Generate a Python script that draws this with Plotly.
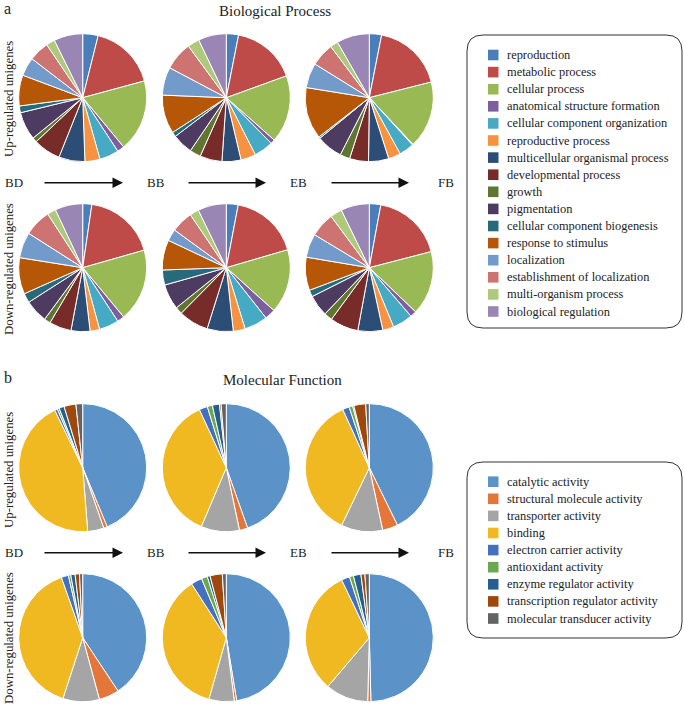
import plotly.graph_objects as go

W, H = 685, 707

stages = ["BD", "BB", "EB", "FB"]

bp_labels = ["reproduction", "metabolic process", "cellular process", "anatomical structure formation",
             "cellular component organization", "reproductive process", "multicellular organismal process",
             "developmental process", "growth", "pigmentation", "cellular component biogenesis",
             "response to stimulus", "localization", "establishment of localization",
             "multi-organism process", "biological regulation"]
bp_colors = ["#4A7EBB", "#BE4B48", "#98B954", "#7D5FA0", "#46AAC5", "#F69240", "#2C4D75", "#772C2A",
             "#5F7530", "#4D3B62", "#276A7C", "#B65708", "#729ACA", "#CD7371", "#AFC97A", "#9A86B5"]

bp_up_BD = [3.9, 16.9, 18.2, 1.8, 4.9, 3.8, 6.6, 6.9, 1.2, 7.1, 1.7, 7.8, 4.7, 5.1, 2.2, 7.3]
bp_up_BB = [3.1, 16.4, 17.1, 1.1, 4.9, 3.8, 4.8, 5.6, 2.8, 5.2, 1.2, 9.8, 7.1, 7.2, 3.0, 7.1]
bp_up_FB = [3.1, 18.0, 17.0, 0.2, 3.8, 3.1, 5.1, 4.8, 2.5, 6.6, 0.4, 13.1, 6.3, 5.9, 2.0, 8.3]
bp_down_BD = [2.3, 18.3, 18.4, 1.8, 5.0, 2.4, 4.8, 5.6, 1.6, 5.8, 2.4, 9.2, 6.5, 6.8, 2.2, 7.0]
bp_down_BB = [3.0, 17.5, 16.2, 2.7, 5.9, 3.0, 6.6, 7.6, 1.8, 6.4, 3.8, 7.6, 3.0, 5.5, 2.3, 7.2]
bp_down_FB = [2.9, 18.1, 16.2, 1.6, 5.1, 2.8, 6.3, 7.2, 2.1, 5.4, 1.7, 8.4, 6.0, 6.2, 3.0, 7.2]

mf_labels = ["catalytic activity", "structural molecule activity", "transporter activity", "binding",
             "electron carrier activity", "antioxidant activity", "enzyme regulator activity",
             "transcription regulator activity", "molecular transducer activity"]
mf_colors = ["#5B93C8", "#E5763A", "#A5A5A5", "#F0B921", "#4470BE", "#6AA84F", "#255E91", "#9E480E", "#636363"]

mf_up_BD = [43.8, 0.9, 4.1, 44.1, 0.7, 0.5, 1.3, 3.0, 1.7]
mf_up_BB = [44.6, 2.1, 9.7, 36.7, 2.1, 1.3, 1.8, 0.4, 1.3]
mf_up_FB = [42.8, 3.9, 10.5, 36.1, 1.7, 0.9, 0.3, 3.0, 0.9]
mf_down_BD = [40.7, 5.1, 9.2, 39.6, 1.8, 0.6, 1.1, 1.1, 0.8]
mf_down_BB = [47.4, 0.6, 6.4, 36.5, 2.8, 1.5, 0.7, 3.1, 1.0]
mf_down_FB = [49.6, 0.8, 10.8, 31.7, 2.1, 1.0, 1.9, 1.0, 1.1]

FONT = "Liberation Serif, Times New Roman, serif"
TXT = "#222222"

fig = go.Figure()

# invisible pixel-space axes covering whole figure
fig.add_trace(go.Scatter(x=[0, W], y=[0, H], mode="markers", marker=dict(opacity=0),
                         hoverinfo="skip", showlegend=False))

R = 64
col_x = [82.7, 226.3, 369.3]
rows = [
    (97.7, [bp_up_BD, bp_up_BB, bp_up_FB], bp_labels, bp_colors),
    (267.7, [bp_down_BD, bp_down_BB, bp_down_FB], bp_labels, bp_colors),
    (467.7, [mf_up_BD, mf_up_BB, mf_up_FB], mf_labels, mf_colors),
    (637.7, [mf_down_BD, mf_down_BB, mf_down_FB], mf_labels, mf_colors),
]
for cy, series, labels, colors in rows:
    for cx, vals in zip(col_x, series):
        fig.add_trace(go.Pie(
            labels=labels, values=vals, sort=False, direction="clockwise", rotation=0,
            marker=dict(colors=colors, line=dict(color="white", width=1)),
            textinfo="none", showlegend=False,
            domain=dict(x=[(cx - R) / W, (cx + R) / W], y=[1 - (cy + R) / H, 1 - (cy - R) / H]),
        ))

ann = []
shapes = []

def text(x, y, s, size, xanchor="left", yanchor="middle", angle=0):
    ann.append(dict(x=x, y=y, xref="x", yref="y", text=s, showarrow=False, textangle=angle,
                    xanchor=xanchor, yanchor=yanchor, borderpad=0,
                    font=dict(family=FONT, size=size, color=TXT)))

# panel letters and titles
text(3, 8, "a", 16)
text(275, 11, "Biological Process", 15, xanchor="center")
text(3, 377, "b", 16)
text(282, 380, "Molecular Function", 15, xanchor="center")

# row labels
for y, s in [(99, "Up-regulated unigenes"), (269, "Down-regulated unigenes"),
             (470, "Up-regulated unigenes"), (638, "Down-regulated unigenes")]:
    text(9, y, s, 12.8, xanchor="center", angle=-90)

# stage labels and arrows
stage_x = [4, 146, 289, 437]
arrows = [(43, 123), (187, 266), (330, 409)]
for y in [182.7, 552.7]:
    for sx, s in zip(stage_x, stages):
        text(sx, y, s, 13)
    for x0, x1 in arrows:
        ann.append(dict(x=x1, y=y, ax=x0, ay=y, xref="x", yref="y", axref="x", ayref="y", text="",
                        showarrow=True, arrowhead=2, arrowsize=1.5, arrowwidth=1.4, arrowcolor="#111",
                        standoff=0, startstandoff=0))

def rounded_box(x0, y0, x1, y1, r):
    p = (f"M {x0+r},{y0} L {x1-r},{y0} Q {x1},{y0} {x1},{y0+r} L {x1},{y1-r} Q {x1},{y1} {x1-r},{y1} "
         f"L {x0+r},{y1} Q {x0},{y1} {x0},{y1-r} L {x0},{y0+r} Q {x0},{y0} {x0+r},{y0} Z")
    shapes.append(dict(type="path", path=p, xref="x", yref="y", line=dict(color="#333", width=1)))

def legend(labels, colors, box, y_first, step):
    rounded_box(*box, 16)
    for i, (lab, c) in enumerate(zip(labels, colors)):
        y = y_first + i * step
        shapes.append(dict(type="rect", xref="x", yref="y", x0=488, x1=498.5, y0=y - 5.3, y1=y + 5.3,
                           fillcolor=c, line=dict(width=0)))
        text(506, y, lab, 12.4)

legend(bp_labels, bp_colors, (467, 35, 682, 328), 55, 17.1)
legend(mf_labels, mf_colors, (467, 462, 682, 638), 481.7, 17.1)

fig.update_layout(
    width=W, height=H, margin=dict(l=0, r=0, t=0, b=0),
    paper_bgcolor="white", plot_bgcolor="rgba(0,0,0,0)",
    xaxis=dict(range=[0, W], visible=False, fixedrange=True, domain=[0, 1]),
    yaxis=dict(range=[H, 0], visible=False, fixedrange=True, domain=[0, 1]),
    annotations=ann, shapes=shapes, showlegend=False,
    font=dict(family=FONT),
)

fig.write_html("out.html", config={"displayModeBar": False},
               post_script="document.body.style.margin='0';document.body.style.overflow='hidden';")
